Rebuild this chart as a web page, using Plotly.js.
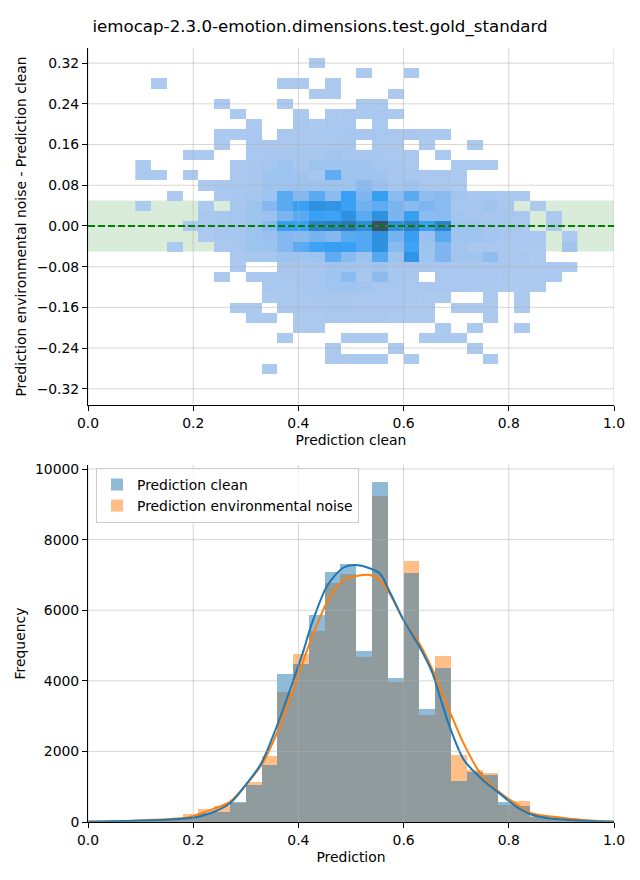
<!DOCTYPE html>
<html><head><meta charset="utf-8">
<script src="https://cdn.plot.ly/plotly-3.0.1.min.js"></script>
<style>html,body{margin:0;padding:0;background:#fff}#chart{width:640px;height:880px}</style>
</head><body><div id="chart"></div>
<script>
const titleText = 'iemocap-2.3.0-emotion.dimensions.test.gold_standard';

// ---- top: 2D histogram (bin centres and counts) ----
const heatX = [0.105,0.135,0.165,0.195,0.225,0.255,0.285,0.315,0.345,0.375,0.405,0.435,0.465,0.495,0.525,0.555,0.585,0.615,0.645,0.675,0.705,0.735,0.765,0.795,0.825,0.855,0.885,0.915];
const heatY = [0.32,0.30,0.28,0.26,0.24,0.22,0.20,0.18,0.16,0.14,0.12,0.10,0.08,0.06,0.04,0.02,0.00,-0.02,-0.04,-0.06,-0.08,-0.10,-0.12,-0.14,-0.16,-0.18,-0.20,-0.22,-0.24,-0.26,-0.28];
const heatCounts = [
 [0,0,0,0,0,0,0,0,0,0,0,1,0,0,0,0,0,0,0,0,0,0,0,0,0,0,0,0],
 [0,0,0,0,0,0,0,0,0,0,0,0,0,0,1,0,0,1,0,0,0,0,0,0,0,0,0,0],
 [0,1,0,0,0,0,0,0,0,1,1,0,1,0,0,0,0,0,0,0,0,0,0,0,0,0,0,0],
 [0,0,0,0,0,0,0,0,0,0,0,1,1,0,0,0,1,0,0,0,0,0,0,0,0,0,0,0],
 [0,0,0,0,0,1,0,0,0,1,0,0,0,0,1,1,0,0,0,0,0,0,0,0,0,0,0,0],
 [0,0,0,0,0,0,1,0,0,0,1,0,1,2,1,2,1,0,0,0,0,0,0,0,0,0,0,0],
 [0,0,0,0,0,0,0,1,0,0,2,1,2,2,0,1,0,0,0,0,0,0,0,0,0,0,0,0],
 [0,0,0,0,0,1,1,2,0,2,2,3,2,3,2,3,2,2,1,1,0,0,0,0,0,0,0,0],
 [0,0,0,0,0,1,0,2,2,2,3,2,3,3,0,2,2,0,1,0,0,1,0,0,0,0,0,0],
 [0,0,0,1,1,0,0,2,3,3,3,3,6,4,3,3,2,2,0,1,0,0,0,0,0,0,0,0],
 [1,0,0,0,0,0,2,3,4,8,3,8,7,8,7,4,3,2,0,0,1,1,1,0,0,0,0,0],
 [1,1,0,1,0,0,2,3,7,8,7,3,22,8,8,7,3,3,2,2,1,0,0,0,0,0,0,0],
 [0,0,0,0,1,2,3,3,7,8,8,8,8,8,14,9,4,8,3,2,1,0,0,0,0,0,0,0],
 [0,0,1,0,0,2,3,4,8,23,15,23,13,29,16,30,14,23,12,14,6,3,3,2,2,0,0,0],
 [1,0,0,0,1,0,3,8,15,23,29,36,35,29,19,22,17,14,16,14,3,3,7,3,0,1,0,0],
 [0,0,0,0,2,3,4,8,9,17,23,29,28,36,23,36,17,30,13,14,5,4,3,3,2,0,1,0],
 [0,0,0,1,2,3,4,8,14,30,29,43,44,47,38,62,37,44,30,42,8,7,4,3,2,0,1,0],
 [0,0,0,0,1,3,3,8,9,15,14,18,15,23,24,36,18,30,9,23,7,7,6,3,2,2,0,1],
 [0,0,1,0,0,2,3,8,8,15,23,28,30,29,24,36,14,28,8,16,6,2,2,2,1,1,0,6],
 [0,0,0,0,0,0,2,3,3,8,7,8,22,14,8,24,8,35,7,16,6,6,12,2,2,1,0,0],
 [0,0,0,0,0,0,1,0,0,3,3,4,7,6,5,7,3,3,3,2,2,2,2,2,1,1,1,1],
 [0,0,0,0,0,1,0,2,2,3,3,3,7,13,3,13,3,3,0,2,2,2,2,1,1,1,1,0],
 [0,0,0,0,0,0,0,0,2,2,3,3,6,7,6,3,3,2,2,2,2,1,1,1,1,1,0,0],
 [0,0,0,0,0,0,0,0,1,2,2,3,3,3,2,2,2,2,1,1,0,0,1,0,1,0,0,0],
 [0,0,0,0,0,0,1,1,0,2,2,2,3,3,2,2,2,1,1,0,1,1,1,0,1,0,0,0],
 [0,0,0,0,0,0,0,1,1,0,1,1,2,2,2,2,1,1,1,0,0,0,1,0,0,0,0,0],
 [0,0,0,0,0,0,0,0,0,0,1,1,0,0,0,0,0,0,0,1,0,1,0,0,1,0,0,0],
 [0,0,0,0,0,0,0,0,0,1,0,0,0,1,1,1,0,0,1,1,1,0,0,0,0,0,0,0],
 [0,0,0,0,0,0,0,0,0,0,0,0,1,0,0,0,1,0,0,0,0,1,0,0,0,0,0,0],
 [0,0,0,0,0,0,0,0,0,0,0,0,1,1,1,1,0,1,0,0,0,0,1,0,0,0,0,0],
 [0,0,0,0,0,0,0,0,1,0,0,0,0,0,0,0,0,0,0,0,0,0,0,0,0,0,0,0]
];

// ---- bottom: 1D histograms ----
const binCenters = [0.015,0.045,0.075,0.105,0.135,0.165,0.195,0.225,0.255,0.285,0.315,0.345,0.375,0.405,0.435,0.465,0.495,0.525,0.555,0.585,0.615,0.645,0.675,0.705,0.735,0.765,0.795,0.825,0.855,0.885,0.915,0.945,0.975,1.005];
const cleanCounts = [10,20,25,35,45,70,105,250,270,560,1050,1610,4190,4480,5860,7080,7310,4840,9630,4080,7050,3200,4360,1170,1420,1330,570,450,140,90,50,30,15,10];
const noiseCounts = [35,20,30,40,50,80,220,360,450,540,1130,1870,3690,4760,5410,6770,7030,4670,9240,3970,7390,3030,4700,1900,1470,1390,480,600,160,110,60,40,20,20];

const kdeCleanX = [0,0.05,0.10,0.15,0.19,0.21,0.24,0.27,0.30,0.33,0.36,0.39,0.41,0.425,0.455,0.485,0.508,0.535,0.555,0.575,0.60,0.63,0.655,0.67,0.69,0.715,0.75,0.78,0.815,0.845,0.88,0.94,1.0];
const kdeCleanY = [8,20,40,65,105,150,290,530,1050,1680,2750,4000,4870,5600,6700,7200,7280,7190,7040,6480,5720,4970,4210,3500,2600,1750,1200,840,430,200,100,35,5];
const kdeNoiseX = [0,0.05,0.10,0.15,0.19,0.21,0.24,0.27,0.30,0.33,0.36,0.39,0.41,0.425,0.455,0.486,0.51,0.536,0.555,0.575,0.60,0.63,0.66,0.69,0.715,0.745,0.78,0.815,0.845,0.89,0.94,1.0];
const kdeNoiseY = [12,20,45,80,130,220,380,570,1050,1620,2550,3750,4600,5200,6250,6860,6970,7000,6860,6430,5720,5060,4150,3050,2200,1400,870,500,240,140,60,15];

// ---- ticks ----
const xTickVals = [0,0.2,0.4,0.6,0.8,1.0];
const xTickText = ['0.0','0.2','0.4','0.6','0.8','1.0'];
const diffTickVals = [-0.32,-0.24,-0.16,-0.08,0,0.08,0.16,0.24,0.32];
const diffTickText = ['\u22120.32','\u22120.24','\u22120.16','\u22120.08','0.00','0.08','0.16','0.24','0.32'];
const freqTickVals = [0,2000,4000,6000,8000,10000];
const freqTickText = ['0','2000','4000','6000','8000','10000'];

const FONT = 'DejaVu Sans, sans-serif';
const FS = 13.9;
const gridColor = 'rgba(176,176,176,0.5)';

const heatZ = heatCounts.map(r => r.map(v => v === 0 ? null : v));

const traces = [
  {type:'heatmap', x:heatX, y:heatY, z:heatZ, xaxis:'x', yaxis:'y', zmin:1, zmax:62,
   showscale:false, hoverongaps:false, showlegend:false,
   colorscale:[[0,'#acc9ef'],[0.115,'#9dc3ef'],[0.23,'#85b8f0'],[0.36,'#5aaaf2'],[0.46,'#38a1f5'],[0.57,'#2e93e2'],[0.70,'#2e80c6'],[0.85,'#35679a'],[1,'#3b4f68']]},
  {type:'bar', x:binCenters, y:noiseCounts, width:0.03, xaxis:'x2', yaxis:'y2',
   name:'Prediction environmental noise', legendrank:2,
   marker:{color:'rgba(255,127,14,0.5)', line:{width:0}}},
  {type:'bar', x:binCenters, y:cleanCounts, width:0.03, xaxis:'x2', yaxis:'y2',
   name:'Prediction clean', legendrank:1,
   marker:{color:'rgba(31,119,180,0.5)', line:{width:0}}},
  {type:'scatter', mode:'lines', x:kdeNoiseX, y:kdeNoiseY, xaxis:'x2', yaxis:'y2', showlegend:false,
   line:{color:'#ff7f0e', width:2, shape:'spline', smoothing:0.8}},
  {type:'scatter', mode:'lines', x:kdeCleanX, y:kdeCleanY, xaxis:'x2', yaxis:'y2', showlegend:false,
   line:{color:'#1f77b4', width:2, shape:'spline', smoothing:0.8}}
];

const shapes = [];
shapes.push({type:'rect', xref:'x domain', x0:0, x1:1, yref:'y', y0:-0.05, y1:0.05,
  fillcolor:'rgba(0,128,0,0.15)', line:{width:0}, layer:'below'});
xTickVals.forEach(v => {
  shapes.push({type:'line', xref:'x', x0:v, x1:v, yref:'y domain', y0:0, y1:1, line:{color:gridColor, width:1}, layer:'above'});
  shapes.push({type:'line', xref:'x2', x0:v, x1:v, yref:'y2 domain', y0:0, y1:1, line:{color:gridColor, width:1}, layer:'above'});
});
diffTickVals.forEach(v => {
  shapes.push({type:'line', xref:'x domain', x0:0, x1:1, yref:'y', y0:v, y1:v, line:{color:gridColor, width:1}, layer:'above'});
});
freqTickVals.forEach(v => {
  shapes.push({type:'line', xref:'x2 domain', x0:0, x1:1, yref:'y2', y0:v, y1:v, line:{color:gridColor, width:1}, layer:'above'});
});
shapes.push({type:'line', xref:'x domain', x0:0, x1:1, yref:'y', y0:0, y1:0,
  line:{color:'#008000', width:2, dash:'7px,3px'}, layer:'above'});

const axisCommon = {
  showline:true, linecolor:'#000', linewidth:1, mirror:false,
  ticks:'outside', ticklen:5, tickwidth:1, tickcolor:'#000',
  showgrid:false, zeroline:false, tickfont:{family:FONT, size:FS, color:'#000'},
  tickmode:'array', automargin:false, fixedrange:true
};

const layout = {
  width:640, height:880,
  margin:{l:88, r:26, t:48, b:58},
  paper_bgcolor:'#fff', plot_bgcolor:'rgba(0,0,0,0)',
  font:{family:FONT, size:FS, color:'#000'},
  title:{text:titleText, font:{family:FONT, size:16.67, color:'#000'}, xref:'container', x:0.5, xanchor:'center', yref:'container', y:1-26/880, yanchor:'middle'},
  barmode:'overlay', bargap:0,
  showlegend:true,
  legend:{x:0.0152, y:0.4574, xanchor:'left', yanchor:'top', bgcolor:'rgba(255,255,255,0.8)', bordercolor:'#cccccc', borderwidth:1,
    font:{family:FONT, size:FS, color:'#000'}, traceorder:'normal', tracegroupgap:0, itemwidth:30},
  xaxis:Object.assign({}, axisCommon, {domain:[0,1], anchor:'y', range:[0,1], tickvals:xTickVals, ticktext:xTickText,
    title:{text:'Prediction clean', font:{family:FONT, size:FS, color:'#000'}, standoff:5}}),
  yaxis:Object.assign({}, axisCommon, {domain:[0.5388,1], anchor:'x', range:[-0.3517,0.3497], tickvals:diffTickVals, ticktext:diffTickText,
    title:{text:'Prediction environmental noise - Prediction clean', font:{family:FONT, size:FS, color:'#000'}, standoff:6}}),
  xaxis2:Object.assign({}, axisCommon, {domain:[0,1], anchor:'y2', range:[0,1], tickvals:xTickVals, ticktext:xTickText,
    title:{text:'Prediction', font:{family:FONT, size:FS, color:'#000'}, standoff:5}}),
  yaxis2:Object.assign({}, axisCommon, {domain:[0,0.4612], anchor:'x2', range:[0,10114], tickvals:freqTickVals, ticktext:freqTickText,
    title:{text:'Frequency', font:{family:FONT, size:FS, color:'#000'}, standoff:6}}),
  shapes:shapes
};

Plotly.newPlot('chart', traces, layout, {staticPlot:true, displayModeBar:false});
</script>
</body></html>
